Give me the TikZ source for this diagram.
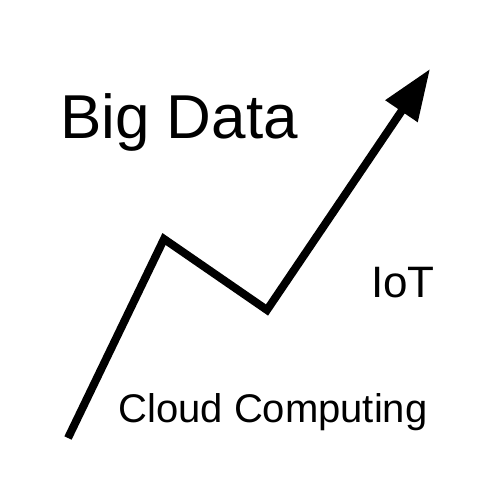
\documentclass[tikz,border=0pt]{standalone}
\usepackage{fontspec}
\setmainfont{Liberation Sans}
\usetikzlibrary{arrows.meta}

\begin{document}
\begin{tikzpicture}[x=1pt,y=-1pt,
  label/.style={inner sep=0pt,anchor=base},
  trend/.style={line width=8pt,line join=miter,-{Triangle[length=51pt,width=37pt]}}]
\useasboundingbox[fill=white] (0,0) rectangle (500,500);
\coordinate (start) at (68,438);
\coordinate (peak) at (164,239);
\coordinate (dip) at (267,310);
\coordinate (tip) at (430,69);
\node[label,font=\fontsize{62}{62}\selectfont] (bigdata) at (179,138) {Big Data};
\node[label,font=\fontsize{44}{44}\selectfont] (iot) at (403,297) {IoT};
\node[label,font=\fontsize{40}{40}\selectfont] (cloud) at (273,422) {Cloud Computing};
\draw[trend] (start) -- (peak) -- (dip) -- (tip);
\end{tikzpicture}
\end{document}
